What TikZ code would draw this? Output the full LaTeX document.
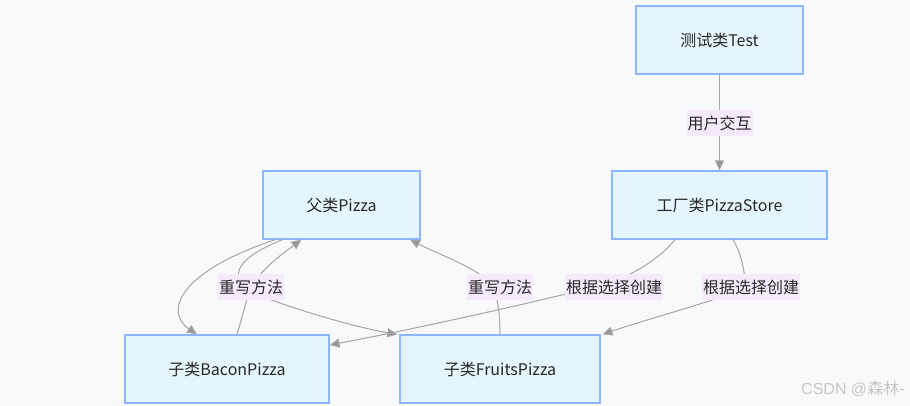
\documentclass[tikz,border=0pt]{standalone}
\usepackage{fontspec}
\setmainfont{Noto Sans CJK SC}
\newfontfamily\wmfont{Liberation Sans}
\newfontfamily\wmcjk{Noto Sans CJK SC}
\usetikzlibrary{arrows.meta}
\definecolor{bgc}{RGB}{248,249,251}
\definecolor{nodefill}{RGB}{228,245,254}
\definecolor{nodeborder}{RGB}{140,182,255}
\definecolor{lblfill}{RGB}{244,234,252}
\definecolor{edgec}{RGB}{166,166,166}
\definecolor{tipc}{RGB}{150,150,150}
\definecolor{txtc}{RGB}{40,40,40}
\tikzset{
  box/.style={draw=nodeborder, line width=1.2pt, fill=nodefill, minimum height=68pt, inner sep=0pt, text=txtc, font=\fontsize{16}{18}\selectfont},
  lbl/.style={fill=lblfill, inner sep=1pt, minimum height=26pt, text=txtc, font=\fontsize{16}{18}\selectfont},
  edge/.style={draw=edgec, line width=1pt, -{Triangle[length=10pt,width=9pt,fill=tipc]}}
}
\begin{document}
\begin{tikzpicture}[x=1pt,y=-1pt]
\fill[bgc] (0,0) rectangle (910,406);
\useasboundingbox (0,0) rectangle (910,406);

\node[box, minimum width=167pt] (test) at (719.5,40) {测试类Test};
\node[box, minimum width=215pt] (store) at (719.5,205) {工厂类PizzaStore};
\node[box, minimum width=157pt] (pizza) at (341.5,205) {父类Pizza};
\node[box, minimum width=204pt] (bacon) at (227,369) {子类BaconPizza};
\node[box, minimum width=200pt] (fruits) at (500,369) {子类FruitsPizza};

% edges
\draw[edge] (test.south) -- (store.north);
\draw[edge] ([xshift=-66pt]pizza.south) .. controls (178,272) and (164,312) .. ([xshift=-30pt]bacon.north);
\draw[edge] ([xshift=-59pt]pizza.south) .. controls (245,255) and (228,270) .. (245,290) .. controls (300,312) and (360,328) .. ([xshift=-2pt]fruits.north west);
\draw[edge] ([xshift=10pt]bacon.north) .. controls (243,315) and (246,300) .. (251,287) .. controls (262,268) and (285,252) .. ([xshift=-40pt]pizza.south);
\draw[edge] (fruits.north) .. controls (500,310) and (497,295) .. (490,282) .. controls (470,265) and (440,255) .. ([xshift=68.5pt]pizza.south);
\draw[edge] ([xshift=-44.5pt]store.south) .. controls (660,258) and (640,270) .. (614,282) .. controls (545,300) and (420,328) .. ([yshift=24pt]bacon.east);
\draw[edge] ([xshift=13.5pt]store.south) .. controls (742,255) and (744,270) .. (746,287) .. controls (720,300) and (650,318) .. ([xshift=2pt]fruits.north east);

% labels
\node[lbl] (l0) at (719.5,123) {用户交互};
\node[lbl] (l1) at (251,287) {重写方法};
\node[lbl] (l2) at (500,287) {重写方法};
\node[lbl] (l3) at (614,287) {根据选择创建};
\node[lbl] (l4) at (751,287) {根据选择创建};

\node[text=black!22, font=\fontsize{16}{18}\selectfont, anchor=east, inner sep=0pt] (wm) at (905,389) {\wmfont CSDN @\wmcjk 森林-};
\end{tikzpicture}
\end{document}
